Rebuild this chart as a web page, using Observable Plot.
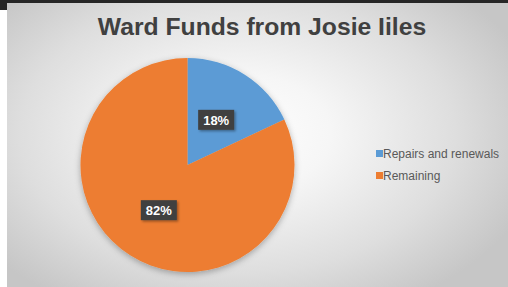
<!DOCTYPE html>
<html><head><meta charset="utf-8">
<script src="https://cdn.jsdelivr.net/npm/d3@7"></script>
<script src="https://cdn.jsdelivr.net/npm/@observablehq/plot@0.6"></script>
<style>
html,body{margin:0;padding:0;background:#fff;}
body{width:508px;height:287px;position:relative;overflow:hidden;font-family:"Liberation Sans",Arial,sans-serif;}
#topbar{position:absolute;left:0;top:0;width:508px;height:3px;background:#262626;}
#corner{position:absolute;left:0;top:0;width:7px;height:10px;background:#262626;}
#chart{position:absolute;left:7px;top:3px;width:501px;height:284px;overflow:hidden;
  background:radial-gradient(ellipse 62% 70% at 46% 46%, #ffffff 0%, #f6f6f6 30%, #dedede 70%, #c6c6c6 100%);}
#title{position:absolute;left:0;top:12px;width:510px;text-align:center;font-weight:bold;font-size:24.7px;line-height:24.7px;color:#404040;white-space:nowrap;}
#plot{position:absolute;left:0;top:0;}
#legend{position:absolute;left:369px;top:145px;font-size:12px;color:#595959;}
.lg-item{position:relative;height:22px;line-height:12px;white-space:nowrap;}
.lg-sw{position:absolute;left:0;top:2px;width:7px;height:7px;}
.lg-tx{position:absolute;left:7px;top:0;}
</style>
</head><body>
<div id="topbar"></div><div id="corner"></div>
<div id="chart">
  <div id="plot"></div>
  <div id="title"></div>
  <div id="legend"></div>
</div>
<script>
const titleText = "Ward Funds from Josie Iiles";
const categories = ["Repairs and renewals", "Remaining"];
const values = [18, 82];
const labels = ["18%", "82%"];
const colors = ["#5B9BD5", "#ED7D31"];

const data = categories.map((c, i) => ({category: c, value: values[i], label: labels[i]}));
const arcs = d3.pie().sort(null).value(d => d.value)(data);

document.getElementById("title").textContent = titleText;

const W = 501, H = 284;
const cx = 180.5, cy = 162, R = 107;

const measure = document.createElement("canvas").getContext("2d");
measure.font = "bold 13px 'Liberation Sans', Arial, sans-serif";

function pieMark(index, scales) {
  const x = scales.x, y = scales.y, color = scales.color;
  const px = x(0), py = y(0), r = x(1) - x(0);
  const g = d3.create("svg:g");
  const defs = g.append("defs");
  const f1 = defs.append("filter").attr("id", "pieShadow").attr("x", "-20%").attr("y", "-20%").attr("width", "140%").attr("height", "140%");
  f1.append("feDropShadow").attr("dx", 0).attr("dy", 2).attr("stdDeviation", 3).attr("flood-color", "#000").attr("flood-opacity", 0.3);
  const f2 = defs.append("filter").attr("id", "boxShadow").attr("x", "-30%").attr("y", "-30%").attr("width", "160%").attr("height", "160%");
  f2.append("feDropShadow").attr("dx", 1.5).attr("dy", 1.5).attr("stdDeviation", 1).attr("flood-color", "#000").attr("flood-opacity", 0.35);
  const arcGen = d3.arc().innerRadius(0).outerRadius(r);
  const gp = g.append("g").attr("transform", `translate(${px},${py})`);
  gp.append("g").attr("filter", "url(#pieShadow)")
    .selectAll("path").data(arcs).join("path")
    .attr("d", arcGen).attr("fill", d => color(d.data.category));
  const lab = gp.selectAll("g.lab").data(arcs).join("g").attr("class", "lab")
    .attr("transform", d => { const [a, b] = arcGen.centroid(d); return `translate(${a},${b})`; });
  lab.append("rect")
    .attr("x", d => -(measure.measureText(d.data.label).width + 10) / 2)
    .attr("y", -10)
    .attr("width", d => measure.measureText(d.data.label).width + 10)
    .attr("height", 20)
    .attr("fill", "#404040")
    .attr("filter", "url(#boxShadow)");
  lab.append("text")
    .attr("text-anchor", "middle").attr("y", 5)
    .attr("fill", "#fff").attr("font-weight", "bold").attr("font-size", 13)
    .attr("font-family", "'Liberation Sans', Arial, sans-serif")
    .text(d => d.data.label);
  return g.node();
}

const plot = Plot.plot({
  width: W, height: H, margin: 0,
  style: {background: "none", overflow: "visible"},
  x: {domain: [-1, 1], range: [cx - R, cx + R], axis: null},
  y: {domain: [-1, 1], range: [cy + R, cy - R], axis: null},
  color: {domain: categories, range: colors},
  marks: [
    Plot.dot(data, {x: () => 0, y: () => 0, fill: "category", r: 0}),
    pieMark
  ]
});
document.getElementById("plot").appendChild(plot);

const cs = plot.scale("color");
const legend = d3.select("#legend");
const items = legend.selectAll("div").data(cs.domain).join("div").attr("class", "lg-item");
items.append("div").attr("class", "lg-sw").style("background", (d, i) => cs.range[i]);
items.append("div").attr("class", "lg-tx").text(d => d);
</script>
</body></html>
